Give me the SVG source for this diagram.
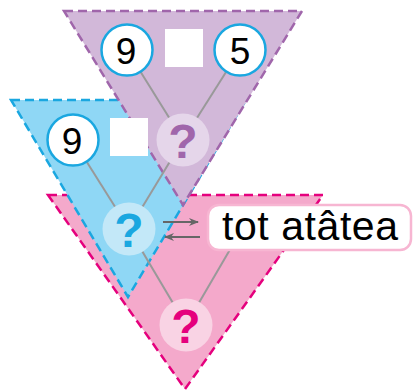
<svg xmlns="http://www.w3.org/2000/svg" width="413" height="392" viewBox="0 0 413 392">
<defs>
<style>
.tri{stroke-width:2.5;stroke-dasharray:9 5}
.ln{stroke:#999;stroke-width:2;fill:none}
.arr{stroke:#666;stroke-width:2;fill:none;marker-end:url(#ah)}
.num{fill:#fff;stroke:#1aa7e0;stroke-width:2.5}
.numt{font-family:"Liberation Sans",Arial,sans-serif;font-size:37px;fill:#000;text-anchor:middle}
.q{font-family:"Liberation Sans",Arial,sans-serif;font-size:48px;font-weight:bold;text-anchor:middle}
</style>
<marker id="ah" markerWidth="10" markerHeight="8" refX="9" refY="4" orient="auto" markerUnits="userSpaceOnUse">
<path d="M0,0 L10,4 L0,8 L3,4 Z" fill="#666"/>
</marker>
</defs>
<g id="tri-pink"><polygon class="tri" points="48,195 323,195 185,389" fill="#f4a9cb" stroke="#e5007d"/></g>
<g id="tri-blue"><polygon class="tri" points="11,100 246,100 128,297" fill="#8fd7f5" stroke="#1aa7e0"/></g>
<g id="tri-purple"><polygon class="tri" points="64,11 302,11 183,205" fill="#d2b8d9" stroke="#a066ab"/></g>
<g id="connectors">
<line class="ln" x1="127" y1="50" x2="183" y2="140"/>
<line class="ln" x1="240" y1="50" x2="183" y2="140"/>
<line class="ln" x1="73" y1="140" x2="129" y2="229"/>
<line class="ln" x1="183" y1="140" x2="129" y2="229"/>
<line class="ln" x1="129" y1="229" x2="186" y2="325"/>
<line class="ln" x1="186" y1="325" x2="242" y2="229"/>
<line class="arr" x1="163" y1="222" x2="198" y2="222"/>
<line class="arr" x1="200" y1="237" x2="165" y2="237"/>
</g>
<g id="n9top"><circle class="num" cx="127" cy="50" r="25.5"/><text class="numt" x="126" y="64">9</text></g>
<g id="sq1"><rect x="165" y="29" width="38" height="38" fill="#fff"/></g>
<g id="n5"><circle class="num" cx="240" cy="50" r="25.5"/><text class="numt" x="240" y="64">5</text></g>
<g id="n9blue"><circle class="num" cx="73" cy="140" r="25.5"/><text class="numt" x="72" y="154">9</text></g>
<g id="sq2"><rect x="110" y="118" width="38" height="38" fill="#fff"/></g>
<g id="qpurple"><circle cx="183" cy="140" r="26.5" fill="#e5d6ea"/><text class="q" x="183" y="158" fill="#a066ab">?</text></g>
<g id="qblue"><circle cx="129" cy="229" r="26.5" fill="#c3e8f8"/><text class="q" x="129" y="247" fill="#1aa7e0">?</text></g>
<g id="qpink"><circle cx="186" cy="325" r="26.5" fill="#f9d3e4"/><text class="q" x="186" y="343" fill="#e5007d">?</text></g>
<g id="box"><rect x="208" y="205" width="203" height="45" rx="11" fill="#fff" stroke="#f7b6d2" stroke-width="2.5"/><text x="310" y="240" font-family="'Liberation Sans',Arial,sans-serif" font-size="41" text-anchor="middle" textLength="176" fill="#000">tot atâtea</text></g>
</svg>
